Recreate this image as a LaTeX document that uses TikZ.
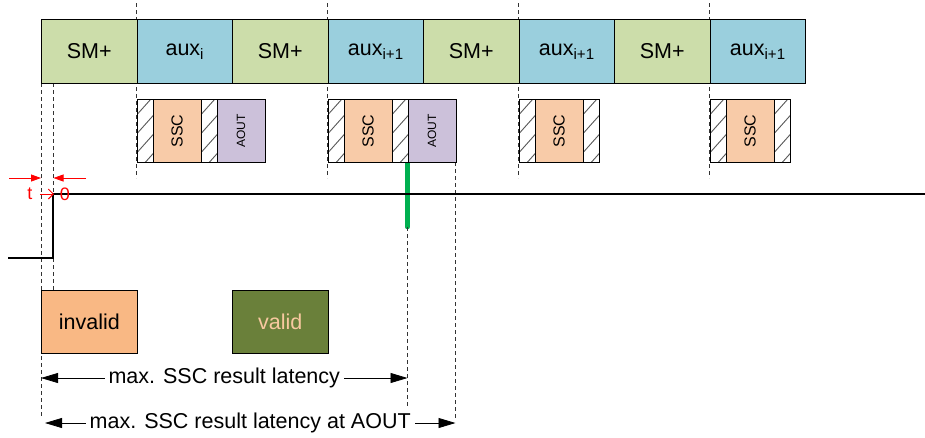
\documentclass[tikz,border=0pt]{standalone}
\usepackage{fontspec}
\setmainfont{Liberation Sans}
\usetikzlibrary{arrows.meta}
\definecolor{smgreen}{HTML}{CCDDAA}
\definecolor{auxblue}{HTML}{9ACFDD}
\definecolor{sscorange}{HTML}{F8CBA8}
\definecolor{aoutpurple}{HTML}{CCC1DA}
\definecolor{invalidfill}{HTML}{F9B884}
\definecolor{validfill}{HTML}{6A803A}
\definecolor{validtext}{HTML}{F8C9A0}
\definecolor{sigred}{HTML}{FF0000}
\definecolor{sigreen}{HTML}{00B050}
\begin{document}
\begin{tikzpicture}[x=1pt,y=-1pt,
  slotbox/.style={draw, line width=1.1pt, minimum width=95.5pt, minimum height=64pt, inner sep=0pt, anchor=north west, font=\fontsize{21.5}{24}\selectfont},
  smbox/.style={slotbox, fill=smgreen},
  auxbox/.style={slotbox, fill=auxblue},
  subbox/.style={draw, line width=1.1pt, minimum height=63pt, inner sep=0pt, anchor=north west},
  hatchbox/.style={subbox, minimum width=16pt, fill=white,
    path picture={\foreach \k in {0,...,4}{\draw[black!65, line width=0.9pt] ([yshift=\k*19pt-9pt]path picture bounding box.south west) -- ++(17pt,19pt);}}},
  sscbox/.style={subbox, minimum width=48pt, fill=sscorange},
  aoutbox/.style={subbox, minimum width=48pt, fill=aoutpurple},
  ssctext/.style={rotate=90, font=\fontsize{16}{18}\selectfont},
  aouttext/.style={rotate=90, font=\fontsize{12}{14}\selectfont},
  guide/.style={dashed, dash pattern=on 4pt off 3pt, line width=0.6pt, black!80},
  statebox/.style={draw, line width=1.1pt, minimum width=95.5pt, minimum height=63pt, inner sep=0pt, anchor=north west, font=\fontsize{21.5}{24}\selectfont},
  latarrow/.style={{Triangle[length=17pt,width=10pt]}-{Triangle[length=17pt,width=10pt]}, line width=0.8pt},
  latlabel/.style={fill=white, inner xsep=4pt, inner ysep=1pt, font=\fontsize{21.5}{24}\selectfont},
  redarrow/.style={-{Triangle[length=10pt,width=7pt]}, sigred, line width=0.8pt},
  redtext/.style={text=sigred, inner sep=0pt, font=\fontsize{18}{20}\selectfont}
]
\useasboundingbox (0,0) rectangle (925,437);

% guide lines through slot boundaries
\foreach \gx in {136.5,327.5,518.5,709.5}{
  \draw[guide] (\gx,3) -- (\gx,178);
}
% guides at start
\coordinate (g41t) at (41,83);
\coordinate (g41b) at (41,418);
\coordinate (g53t) at (53,83);
\coordinate (g53b) at (53,290);
\draw[guide] (g41t) -- (g41b);
\draw[guide] (g53t) -- (g53b);

% top slots
\node[smbox]  (s0) at (41,19)    {SM+};
\node[auxbox] (s1) at (136.5,19) {aux\textsubscript{i}};
\node[smbox]  (s2) at (232,19)   {SM+};
\node[auxbox] (s3) at (327.5,19) {aux\textsubscript{i+1}};
\node[smbox]  (s4) at (423,19)   {SM+};
\node[auxbox] (s5) at (518.5,19) {aux\textsubscript{i+1}};
\node[smbox]  (s6) at (614,19)   {SM+};
\node[auxbox] (s7) at (709.5,19) {aux\textsubscript{i+1}};

% green marker
\coordinate (gtop) at (407.5,162);
\coordinate (gbot) at (407.5,227);
\draw[sigreen, line width=4.5pt, line cap=round] (gtop) -- (gbot);
\coordinate (g407b) at (407.5,408);
\coordinate (g455t) at (455.5,162);
\coordinate (g455b) at (455.5,420);
\draw[guide] (gbot) -- (g407b);
\draw[guide] (g455t) -- (g455b);

% SSC blocks
\node[hatchbox] (h1a) at (136.5,99) {};
\node[sscbox]   (c1)  at (152.5,99) {};
\node[ssctext] at (c1.center) {SSC};
\node[hatchbox] (h1b) at (200.5,99) {};
\node[aoutbox]  (a1)  at (216.5,99) {};
\node[aouttext] at (a1.center) {AOUT};

\node[hatchbox] (h3a) at (327.5,99) {};
\node[sscbox]   (c3)  at (343.5,99) {};
\node[ssctext] at (c3.center) {SSC};
\node[hatchbox] (h3b) at (391.5,99) {};
\node[aoutbox]  (a3)  at (407.5,99) {};
\node[aouttext] at (a3.center) {AOUT};

\node[hatchbox] (h5a) at (518.5,99) {};
\node[sscbox]   (c5)  at (534.5,99) {};
\node[ssctext] at (c5.center) {SSC};
\node[hatchbox] (h5b) at (582.5,99) {};

\node[hatchbox] (h7a) at (709.5,99) {};
\node[sscbox]   (c7)  at (725.5,99) {};
\node[ssctext] at (c7.center) {SSC};
\node[hatchbox] (h7b) at (773.5,99) {};

% signal
\coordinate (sigA) at (8,258);
\coordinate (sigB) at (53,258);
\coordinate (sigC) at (53,194);
\coordinate (sigD) at (925,194);
\draw[line width=2pt] (sigA) -- (sigB) -- (sigC) -- (sigD);

% red t -> 0
\coordinate (rl0) at (9,178);
\coordinate (rl1) at (41,178);
\coordinate (rr0) at (86,178);
\coordinate (rr1) at (53.5,178);
\draw[redarrow] (rl0) -- (rl1);
\draw[redarrow] (rr0) -- (rr1);
\node[redtext] (tt) at (30,194) {t};
\node[redtext] (t0) at (65,194) {0};
\coordinate (ra0) at (40,194);
\coordinate (ra1) at (54,194);
\draw[sigred, line width=1pt, -{Straight Barb[length=5pt,width=10pt]}] (ra0) -- (ra1);

% states
\node[statebox, fill=invalidfill] (inv) at (41,290) {invalid};
\node[statebox, fill=validfill, text=validtext] (val) at (232,290) {valid};

% latency arrows
\coordinate (l1a) at (41,378);
\coordinate (l1b) at (407.5,378);
\draw[latarrow] (l1a) -- (l1b) node[midway, latlabel] {max. SSC result latency};
\coordinate (l2a) at (45,423);
\coordinate (l2b) at (455.5,423);
\draw[latarrow] (l2a) -- (l2b) node[midway, latlabel] {max. SSC result latency at AOUT};
\end{tikzpicture}
\end{document}
